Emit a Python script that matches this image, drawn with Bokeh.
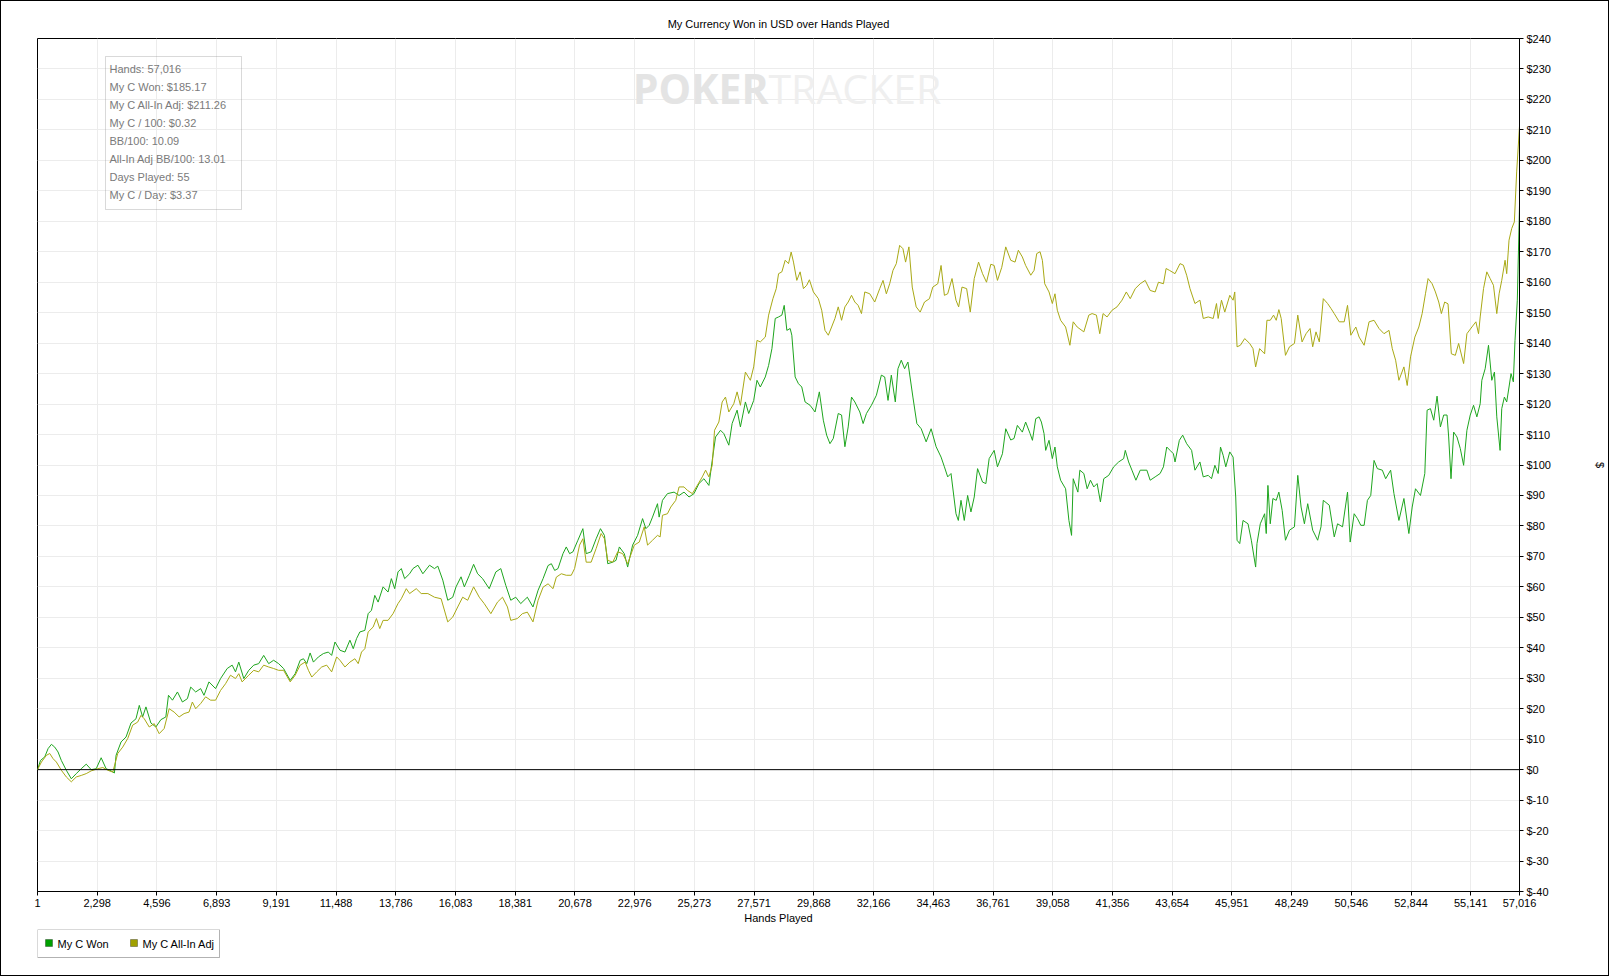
from bokeh.plotting import figure
from bokeh.layouts import column
from bokeh.models import (Range1d, FixedTicker, NumeralTickFormatter, PrintfTickFormatter,
                          Span, Label, BoxAnnotation)
from bokeh.embed import file_html
from bokeh.resources import INLINE

# ---------------- data ----------------
x_ticks = [1, 2298, 4596, 6893, 9191, 11488, 13786, 16083, 18381, 20678, 22976, 25273,
           27571, 29868, 32166, 34463, 36761, 39058, 41356, 43654, 45951, 48249, 50546,
           52844, 55141, 57016]
y_ticks = list(range(-40, 250, 10))

won_pts = [
    (1,0),(115,3),(281,4.2),(408,6.9),(536,8.3),(664,7.4),(791,5.8),(919,3),(1110,-0.2),(1302,-3),
    (1493,-1.3),(1684,0.3),(1876,1.8),(2067,0),(2259,0.3),(2450,3.9),(2641,0.3),(2833,-0.4),(2960,-1.1),
    (3024,4.7),(3216,9.1),(3407,10.7),(3598,15.3),(3790,16.7),(3917,21.1),(4045,17.3),(4173,20.6),
    (4364,15.3),(4555,14),(4747,16.4),(4938,17.3),(5040,24.4),(5193,22.8),(5385,25.5),(5576,22.2),
    (5768,23.3),(5895,27.1),(6087,25.5),(6278,26.6),(6406,24.4),(6597,28.8),(6852,26.6),(7044,29.9),
    (7299,33.2),(7490,34.3),(7618,32.1),(7745,35.3),(7937,29.9),(8128,32.6),(8320,34.3),(8511,34.8),
    (8703,37.5),(8894,34.8),(9085,35.9),(9277,34.8),(9468,33.2),(9723,29.3),(9915,31.5),(10106,35.9),
    (10234,36.4),(10361,34.8),(10489,38.3),(10616,35.3),(10808,37),(10999,38.1),(11191,38.6),(11318,37.5),
    (11446,41.9),(11637,39.2),(11829,38.6),(12020,42.5),(12148,39.7),(12275,43),(12403,45.2),(12594,45.7),
    (12722,51.2),(12849,52.3),(12977,57.2),(13105,55),(13296,60),(13487,58.3),(13615,62.7),(13743,59.4),
    (13870,64.9),(13998,66),(14125,62.7),(14317,64.3),(14445,66),(14636,67.1),(14827,64.3),(15083,67.1),
    (15274,66),(15402,66.8),(15593,62.2),(15784,55.6),(15976,56.6),(16103,60),(16295,63.3),(16422,60),
    (16614,63.8),(16779,67.4),(16933,64.3),(17124,62.7),(17379,59.4),(17634,64.9),(17825,66),(18017,60.5),
    (18208,55.6),(18400,56.6),(18591,54.5),(18846,56.6),(19063,53.4),
    (19260,58.9),(19451,62.7),(19643,67),(19770,67.6),(19898,65.4),(20025,66),(20217,70.9),(20344,73.1),
    (20472,70.9),(20600,71.5),(20791,75.3),(20982,79.1),(21110,70.9),(21301,71.5),(21493,75.8),(21659,79.1),
    (21812,76.9),(21939,67.6),(22131,68.1),(22258,68.7),(22386,73.1),(22577,70.9),(22705,66.5),(22896,73.7),
    (23088,76.9),(23279,82.4),(23407,79.1),(23534,80.2),(23662,82.9),(23853,87.3),(23917,82.9),(24045,88.4),
    (24236,90.6),(24491,91.1),(24683,90),(24874,91.1),(25066,89.5),(25257,90.6),(25448,93.9),(25640,95.5),
    (25831,93.3),(25959,101.5),(26086,109.2),(26278,111.4),(26405,110.3),(26597,106.5),(26724,113.6),
    (26916,118),(27043,112.5),(27235,120.7),(27362,116.9),(27554,121.2),(27681,127.8),(27809,125.6),
    (28000,128.9),(28128,132.7),(28256,138.2),(28383,148.1),(28511,148.6),(28638,149.2),(28728,152.4),
    (28830,144.2),(28957,144.8),(29021,142.6),(29149,128.9),(29276,126.7),(29404,125.6),(29531,120.7),
    (29723,119.6),(29914,117.4),(30080,124),(30233,114.7),(30361,109.8),(30488,107),(30616,108.7),
    (30807,116.9),(30935,116.4),(31063,106),(31190,112.5),(31318,122.3),(31445,120.7),(31637,117.4),
    (31764,113.6),(31892,116.9),(32083,119.6),(32275,122.9),(32466,129.5),(32594,128.9),(32722,121.2),
    (32849,129.5),(33002,120.7),(33104,131.6),(33232,134.4),(33360,131.6),(33487,133.8),(33679,122.3),
    (33832,113.6),(33998,111.9),(34189,107.6),(34380,111.9),(34572,106),(34763,102.6),(34891,99.4),
    (35018,96.1),(35146,97.2),(35337,84),(35427,81.8),(35529,88.4),(35656,81.8),(35784,90),(35912,84.6),
    (36039,89.5),(36167,98.8),(36358,94.4),(36486,93.9),(36613,102.1),(36805,104.8),(36932,99.4),
    (37124,103.7),(37251,111.9),(37443,108.2),(37570,108.7),(37698,113),(37889,110.8),(38017,114.1),
    (38188,110.3),(38278,108.1),(38405,115.2),(38533,115.8),(38622,114.1),(38724,110.3),(38788,104.8),
    (38916,108.1),(39043,102.1),(39145,105.9),(39235,99.4),(39362,95),(39554,92.2),(39681,81.8),(39783,76.9),
    (39847,95.5),(40026,91.1),(40102,98.3),(40255,97.2),(40383,92.2),(40511,95),(40638,92.8),(40766,93.9),
    (40893,87.9),(41021,95.5),(41212,96.6),(41404,99.4),(41595,101),(41787,102.1),(41850,104.8),(41978,101),
    (42106,98.3),(42259,95),(42425,98.3),(42680,98.3),(42807,95),(42999,96.1),(43190,97.2),(43318,99.4),
    (43445,105.9),(43573,104.8),(43701,103.7),(43764,101),(43930,108.1),(44058,109.8),(44211,107),
    (44402,104.8),(44530,98.3),(44721,101),(44849,96.1),(45040,96.6),(45168,95.5),(45296,99.9),(45423,97.2),
    (45513,105.9),(45615,103.2),(45717,99.4),(45870,104.3),(45997,102.6),(46099,89.5),(46150,75.3),
    (46253,74.2),(46380,81.8),(46572,80.7),(46699,75.3),(46865,66.5),(46916,74.2),(47044,80.7),(47210,84),
    (47273,77.5),(47337,93.3),(47427,80.7),(47529,89),(47656,88.4),(47758,91.1),(47886,85.1),(48013,75.3),
    (48167,78.6),(48358,79.7),(48486,96.6),(48613,86.2),(48741,80.7),(48868,87.3),(49060,78.6),(49251,75.3),
    (49379,79.7),(49468,88.4),(49698,86.8),(49889,76.4),(50017,80.7),(50208,79.7),(50400,91.1),(50502,74.7),
    (50655,84),(50782,82.4),(50910,80.2),(51038,80.2),(51165,88.4),(51293,90),(51420,101.5),(51548,98.8),
    (51739,98.3),(51867,95.5),(52058,98.3),(52186,90.6),(52377,81.8),(52569,89),(52760,77.5),(52888,86.2),
    (53015,92.2),(53207,90),(53373,97.2),(53462,118),(53590,118.5),(53717,114.7),(53845,122.6),(53972,112.5),
    (54100,116.4),(54228,116.4),(54291,109.2),(54381,95.5),(54483,110.8),(54610,109.2),(54738,105.4),
    (54866,99.9),(54993,111.4),(55121,116.4),(55248,119.6),(55376,115.8),(55504,120.1),(55567,127.8),
    (55695,131.6),(55823,139.3),(55950,127.8),(56052,130.5),(56142,115.8),(56269,104.8),(56333,118.5),
    (56435,122.3),(56524,120.7),(56613,125.6),(56690,130),(56779,127.3),(56843,140.9),(56932,154.1),
    (57016,185.17),
]

adj_pts = [
    (1,0),(153,2.5),(345,4.7),(472,5.3),(600,3.6),(727,2.5),(919,-0.2),(1110,-2.4),(1302,-4),(1493,-2.4),
    (1684,-1.9),(1876,-1.3),(2067,-0.4),(2322,0.3),(2514,0.7),(2705,-0.2),(2897,-0.8),(3088,5.3),(3279,7.4),
    (3471,10.2),(3662,14.6),(3854,15.6),(3981,17.8),(4109,16.7),(4300,14),(4492,15.1),(4683,11.8),(4874,13.5),
    (5066,20),(5257,18.9),(5449,17.3),(5640,18.4),(5831,18.9),(5959,22.2),(6087,20),(6278,21.7),(6469,23.9),
    (6661,22.8),(6852,22.8),(7044,26),(7235,28.2),(7426,31),(7618,29.9),(7745,31.5),(7873,28.8),(8128,31),
    (8320,32.6),(8511,32.1),(8703,34.3),(8894,33.7),(9085,33.2),(9277,32.6),(9468,32.6),(9723,28.8),(9915,31),
    (10106,34.3),(10298,35.3),(10425,32.6),(10553,30.4),(10744,32.1),(10935,33.7),(11127,34.3),(11318,32.1),
    (11510,37),(11637,35.9),(11829,33.7),(12020,35.3),(12211,36.4),(12339,34.8),(12467,38.6),(12594,39.7),
    (12722,45.2),(12913,46.8),(13041,49.6),(13168,46.3),(13296,49),(13487,49),(13679,51.2),(13870,54.5),
    (13998,56.1),(14189,59.4),(14317,57.8),(14572,59.4),(14764,57.8),(15019,57.8),(15274,56.6),(15529,56.1),
    (15784,48.5),(15976,50.1),(16167,53.4),(16358,56.6),(16550,55.6),(16779,60),(16996,56.6),(17188,54.5),
    (17443,51.2),(17698,55),(17890,56.6),(18081,53.4),(18208,49),(18463,49.6),(18655,51.2),(18846,51.7),
    (19063,48.5),
    (19260,55.6),(19451,59.9),(19643,61),(19834,59.4),(19962,63.2),(20153,64.3),(20344,63.8),(20536,63.8),
    (20663,66),(20855,73.7),(20982,75.8),(21110,68.1),(21301,68.1),(21493,72.6),(21684,77.5),(21812,75.8),
    (21939,68.7),(22131,68.1),(22322,71.5),(22513,70.9),(22705,67.6),(22960,73.7),(23152,74.7),(23343,79.7),
    (23471,73.7),(23662,75.3),(23853,76.9),(23955,76.4),(24045,83.5),(24236,84),(24364,86.2),(24555,88.4),
    (24683,92.8),(24874,92.8),(25002,91.7),(25193,90.6),(25385,93.3),(25576,96.1),(25704,98.3),(25831,96.1),
    (25959,99.9),(26048,111.4),(26214,114.1),(26342,120.7),(26469,122.3),(26597,117.4),(26788,120.1),
    (26916,124),(27043,119.6),(27235,130.5),(27426,127.8),(27554,132.2),(27681,140.9),(27809,140.4),(28000,142),
    (28128,149.2),(28294,154.6),(28422,157.9),(28511,162.8),(28638,163.4),(28766,167.2),(28894,166.1),
    (28996,169.9),(29085,166.6),(29213,160.6),(29340,163.4),(29468,157.9),(29595,159),(29697,160.8),
    (29851,156.8),(30042,154.6),(30170,150.8),(30297,144.2),(30425,142.6),(30552,145.3),(30680,148.1),
    (30807,151.9),(30935,147.5),(31063,151.9),(31190,153.5),(31318,155.7),(31445,153.5),(31573,152.4),
    (31701,149.7),(31828,156.8),(32020,156.2),(32211,153.5),(32403,157.9),(32530,160.6),(32658,156.2),
    (32786,159.5),(32913,163.9),(33041,166.1),(33169,172.1),(33296,171),(33398,166.6),(33526,171.6),
    (33654,158.4),(33806,151.9),(33960,150.2),(34125,153.5),(34317,154.6),(34444,158.4),(34636,159.5),
    (34763,165.5),(34891,155.7),(35018,156.2),(35184,161.2),(35337,154.1),(35439,151.9),(35567,158.4),
    (35746,157.9),(35886,150.2),(36039,161.2),(36205,166.6),(36358,162.8),(36511,160),(36677,165.9),
    (36805,165.5),(36932,160.6),(37098,164.9),(37251,171.6),(37443,167.2),(37609,166.6),(37736,170.5),
    (37889,168.3),(38017,165.5),
    (38214,162.3),(38341,163.9),(38443,169.4),(38571,170),(38660,167.2),(38750,159.5),(38916,156.8),
    (39043,153),(39145,156.2),(39235,150.8),(39362,147.5),(39554,145.3),(39719,139.3),(39847,147),
    (40000,145.3),(40255,143.7),(40447,149.2),(40574,149.7),(40740,149.2),(40868,143.1),(40995,149.7),
    (41149,148.6),(41340,150.8),(41531,151.9),(41723,154.1),(41889,156.8),(42042,154.6),(42233,157.9),
    (42425,159.5),(42616,160.6),(42807,157.3),(42999,156.8),(43126,160),(43318,159.5),(43420,164.5),
    (43547,163.9),(43764,162.8),(43956,166.1),(44083,165.6),(44211,162.3),(44339,157.9),(44530,153),
    (44721,154.1),(44849,148.1),(45040,148.6),(45232,148.1),(45359,153),(45423,148.1),(45551,154.1),
    (45678,150.2),(45870,155.7),(45997,154.1),(46061,156.8),(46150,138.8),(46278,139.3),(46444,141.5),
    (46635,139.9),(46763,138.2),(46865,132.2),(47018,138.2),(47210,136.5),(47299,147.5),(47427,147.5),
    (47554,149.2),(47656,147.5),(47758,151),(47848,148.1),(48013,136),(48167,138.8),(48358,139.9),
    (48486,149.2),(48651,140.4),(48805,143.1),(48958,144.8),(49060,138.8),(49187,143.7),(49315,140.4),
    (49468,154.6),(49634,153),(49762,151.4),(49889,149.7),(50081,147),(50272,147),(50400,152.4),(50527,142.6),
    (50719,145.3),(50846,142),(51038,139.3),(51229,147),(51420,147.5),(51612,144.8),(51803,143.1),
    (51995,144.2),(52122,138.2),(52250,134.4),(52377,127.8),(52569,132.2),(52696,126.1),(52824,135.5),
    (52990,142),(53143,145.3),(53271,149.7),(53398,156.2),(53500,161.2),(53654,159.5),(53781,156.8),
    (53909,153.5),(54011,149.7),(54138,153.5),(54266,152.9),(54394,136.5),(54547,136),(54674,139.9),
    (54866,133.3),(54993,143.1),(55185,145.3),(55338,147),(55440,143.1),(55504,148.6),(55632,157.9),
    (55759,163.4),(55887,161.2),(56014,159),(56142,149.7),(56231,156.2),(56333,160.6),(56461,167.2),
    (56524,162.8),(56613,173.8),(56716,177.6),(56818,179.8),(56907,196.2),(57016,211.26),
]

hands_won = [h for h, v in won_pts]
won = [v for h, v in won_pts]
hands_adj = [h for h, v in adj_pts]
adj = [v for h, v in adj_pts]

series_names = ["My C Won", "My C All-In Adj"]
stats_lines = ["Hands: 57,016", "My C Won: $185.17", "My C All-In Adj: $211.26",
               "My C / 100: $0.32", "BB/100: 10.09", "All-In Adj BB/100: 13.01",
               "Days Played: 55", "My C / Day: $3.37"]

# ---------------- styling ----------------
GREEN_LINE = "#1ea51e"
OLIVE_LINE = "#a9a915"
GREEN_BOX = "#00a000"
OLIVE_BOX = "#a0a000"
FONT = "Liberation Sans"

p = figure(width=1607, height=928, output_backend="svg", toolbar_location=None,
           x_range=Range1d(1, 57016), y_range=Range1d(-40, 240),
           y_axis_location="right",
           min_border_left=36, min_border_right=82, min_border_top=37, min_border_bottom=38,
           title="My Currency Won in USD over Hands Played")
p.background_fill_color = "white"
p.border_fill_color = "white"
p.outline_line_color = "black"
p.outline_line_width = 1

p.title.align = "center"
p.title.text_font = FONT
p.title.text_font_size = "11px"
p.title.text_font_style = "normal"
p.title.text_color = "black"
p.title.standoff = 17

p.xaxis.ticker = FixedTicker(ticks=x_ticks)
p.xaxis.formatter = NumeralTickFormatter(format="0,0")
p.xaxis.axis_label = "Hands Played"
p.yaxis.ticker = FixedTicker(ticks=y_ticks)
p.yaxis.formatter = PrintfTickFormatter(format="$%d")
p.yaxis.axis_label = "$"
p.yaxis.axis_label_standoff = 40
p.xaxis.axis_label_standoff = 2

for ax in (p.xaxis, p.yaxis):
    ax.major_label_text_font = FONT
    ax.major_label_text_font_size = "11px"
    ax.major_label_text_color = "black"
    ax.axis_label_text_font = FONT
    ax.axis_label_text_font_size = "11px"
    ax.axis_label_text_font_style = "normal"
    ax.axis_label_text_color = "black"
    ax.axis_line_color = "black"
    ax.major_tick_line_color = "black"
    ax.major_tick_out = 4
    ax.major_tick_in = 0
    ax.minor_tick_line_color = None
    ax.major_label_standoff = 3

p.xgrid.ticker = FixedTicker(ticks=x_ticks)
p.ygrid.ticker = FixedTicker(ticks=y_ticks)
p.grid.grid_line_color = "#ececec"
p.grid.grid_line_width = 1

# watermark
p.add_layout(Label(x=731, y=804, x_units="screen", y_units="screen", text="POKER",
                   text_align="right", text_baseline="middle", text_font="Open Sans",
                   text_font_size="41px", text_font_style="bold", text_color="#e4e4e4"))
p.add_layout(Label(x=731, y=804, x_units="screen", y_units="screen", text="TRACKER",
                   text_align="left", text_baseline="middle", text_font="Open Sans",
                   text_font_size="41px", text_color="#efefef"))

p.add_layout(Span(location=0, dimension="width", line_color="black", line_width=1))

p.line(hands_won, won, line_color=GREEN_LINE, line_width=1.0)
p.line(hands_adj, adj, line_color=OLIVE_LINE, line_width=1.0)

# stats box
p.add_layout(BoxAnnotation(left=68, right=204, top=835, bottom=682,
                           left_units="screen", right_units="screen",
                           top_units="screen", bottom_units="screen",
                           fill_color="white", fill_alpha=0.0,
                           line_color="#808080", line_width=1))
for i, s in enumerate(stats_lines):
    p.add_layout(Label(x=72, y=823 - 18 * i, x_units="screen", y_units="screen", text=s,
                       text_baseline="middle", text_font=FONT, text_font_size="11px",
                       text_color="#7a7a7a"))

# legend strip (separate small figure below the chart; its frame is aligned with the chart's frame)
lf = figure(width=1607, height=46, output_backend="svg", toolbar_location=None,
            x_axis_type=None, y_axis_type=None, min_border=0,
            x_range=Range1d(0, 1), y_range=Range1d(0, 1))
lf.outline_line_color = None
lf.grid.visible = False
lf.background_fill_color = "white"
lf.border_fill_color = "white"

def sbox(l, r, t, b, fill, line, fill_alpha=1.0):
    return BoxAnnotation(left=l, right=r, top=t, bottom=b,
                         left_units="screen", right_units="screen",
                         top_units="screen", bottom_units="screen",
                         fill_color=fill, fill_alpha=fill_alpha,
                         line_color=line, line_width=1)

lf.add_layout(sbox(0, 182, 46, 18, "white", "black"))
legend_colors = [GREEN_BOX, OLIVE_BOX]
legend_sq_x = [8, 93]
legend_tx_x = [20, 105]
for name, col, sx, tx in zip(series_names, legend_colors, legend_sq_x, legend_tx_x):
    lf.add_layout(sbox(sx, sx + 7, 36, 29, col, "black"))
    lf.add_layout(Label(x=tx, y=32, x_units="screen", y_units="screen", text=name,
                        text_baseline="middle", text_font=FONT, text_font_size="11px",
                        text_color="black"))

layout = column(p, lf, spacing=0, styles={"border": "1px solid black"})

open("out.html", "w").write(file_html(layout, INLINE))
